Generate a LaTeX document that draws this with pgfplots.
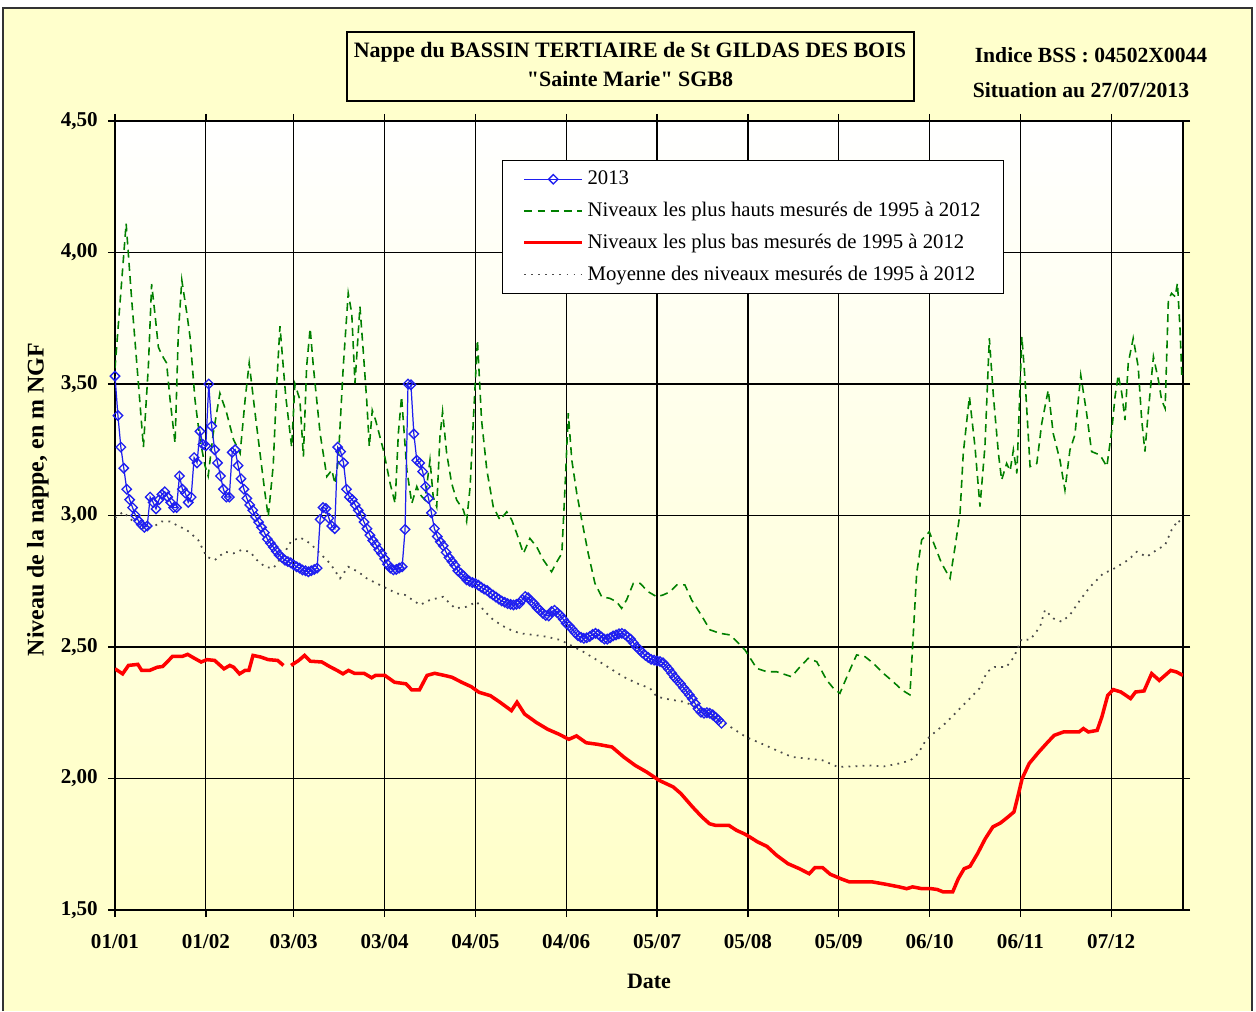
\documentclass[border=0pt]{standalone}
\usepackage{fontspec}
\setmainfont{Liberation Serif}[Ligatures=TeXOff]
\usepackage{pgfplots}
\pgfplotsset{compat=1.18}

\definecolor{bgyellow}{RGB}{255,255,204}
\definecolor{plotbottom}{RGB}{255,255,200}
\definecolor{haut}{RGB}{0,128,0}
\definecolor{bleu}{RGB}{30,30,240}
\definecolor{rouge}{RGB}{255,0,0}

\begin{document}
\begin{tikzpicture}
\useasboundingbox (0,0) rectangle (25.12,20.22);
\fill[white] (0,0) rectangle (25.12,20.22);
\fill[bgyellow] (0.06,0) rectangle (25.04,20.06);
\draw[black!80, line width=1.2pt] (0.06,0) -- (0.06,20.06) -- (25.04,20.06) -- (25.04,0);

% titre
\draw[black, line width=0.8pt, fill=bgyellow] (6.94,18.20) rectangle (18.28,19.58);
\node[anchor=base, inner sep=0pt, font=\fontsize{12.5}{15}\selectfont\bfseries] at (12.6,19.06) {Nappe du BASSIN TERTIAIRE de St GILDAS DES BOIS};
\node[anchor=base, inner sep=0pt, font=\fontsize{12.5}{15}\selectfont\bfseries] at (12.6,18.48) {"Sainte Marie" SGB8};
\node[anchor=base, inner sep=0pt, font=\fontsize{12.3}{15}\selectfont\bfseries] at (21.82,18.96) {Indice BSS : 04502X0044};
\node[anchor=base, inner sep=0pt, font=\fontsize{12.3}{15}\selectfont\bfseries] at (21.62,18.26) {Situation au 27/07/2013};

\begin{axis}[
    at={(2.30cm,2.02cm)}, anchor=south west,
    scale only axis,
    width=21.36cm, height=15.78cm,
    xmin=0, xmax=364.5,
    ymin=1.5, ymax=4.5,
    axis background/.style={top color=white, bottom color=plotbottom},
    axis line style={black, line width=1pt},
    grid=major,
    grid style={black, line width=0.7pt},
    tick align=outside,
    major tick length=0.14cm,
    tick style={black, line width=0.8pt},
    xtick={0,31,61,92,123,154,185,216,247,278,309,340},
    xticklabels={01/01,01/02,03/03,03/04,04/05,04/06,05/07,05/08,05/09,06/10,06/11,07/12},
    ytick={1.5,2,2.5,3,3.5,4,4.5},
    yticklabels={{1,50},{2,00},{2,50},{3,00},{3,50},{4,00},{4,50}},
    ticklabel style={font=\fontsize{12}{14}\selectfont\bfseries},
    xticklabel style={yshift=-0.22cm},
    yticklabel style={xshift=-0.08cm},
    xlabel={Date},
    ylabel={Niveau de la nappe, en m NGF},
    xlabel style={at={(axis description cs:0.5,-0.09)}, anchor=center, font=\fontsize{12.5}{15}\selectfont\bfseries},
    ylabel style={at={(axis description cs:-0.0721,0.52)}, anchor=center, font=\fontsize{13.6}{16}\selectfont\bfseries},
    legend image code/.code={\draw[mark repeat=2,mark phase=2,#1] plot coordinates {(0.1cm,0cm) (0.68cm,0cm) (1.26cm,0cm)};},
    legend style={at={(0.3624,0.9506)}, anchor=north west, draw=black, line width=0.6pt, fill=white,
        font=\fontsize{11.8}{14}\selectfont, row sep=4.4pt, inner xsep=0.4cm, inner ysep=4pt,
        cells={anchor=west}},
    reverse legend,
]

% Moyenne 1995-2012
\addplot[black!70, line width=1pt, dash pattern=on 1pt off 3pt] coordinates {
(0,2.99)(2.8,3.014)(6.2,2.977)(9.7,2.951)(13.1,2.957)(15.9,2.977)(18.8,2.977)(21.6,2.96)(24.5,2.945)
(28.4,2.907)(30.1,2.869)(31.3,2.843)(34.1,2.831)(37.5,2.862)(40.4,2.856)(43.2,2.869)(46.1,2.862)
(48.4,2.831)(51.2,2.805)(54,2.799)(57.4,2.85)(60,2.90)(63.1,2.917)(66.6,2.894)(70,2.856)(73.4,2.818)
(76.8,2.761)(79.6,2.805)(83,2.786)(85.9,2.761)(89.3,2.742)(92.7,2.723)(96.1,2.704)(99,2.698)
(104.1,2.66)(107.5,2.679)(112,2.691)(116,2.647)(120,2.653)(123.4,2.672)(126.3,2.634)(129.1,2.603)
(133.7,2.571)(138.2,2.552)(142.8,2.546)(147.3,2.539)(151.9,2.527)(155.3,2.508)(159.8,2.482)
(164.4,2.451)(168.9,2.419)(173.5,2.387)(178.1,2.362)(182.6,2.343)(184.9,2.311)(189.4,2.3)(194,2.292)
(199.7,2.267)(204.9,2.228)(210.1,2.196)(215.3,2.158)(220.6,2.133)(225.8,2.107)(231,2.082)(236.2,2.076)
(241.5,2.069)(246.7,2.044)(251.9,2.046)(257.1,2.05)(262.4,2.046)(267.6,2.057)(271.5,2.069)(274.1,2.095)
(276.7,2.145)(279.3,2.171)(283.3,2.209)(287.2,2.253)(291.1,2.297)(295,2.342)(297.6,2.405)(300.2,2.424)
(304.2,2.424)(306.8,2.462)(309.4,2.53)(312.3,2.527)(315.7,2.577)(317.4,2.641)(320.2,2.609)(323.1,2.596)
(325.9,2.622)(329.4,2.679)(332.8,2.729)(337.3,2.78)(340.2,2.793)(343,2.812)(345.8,2.831)(348.7,2.862)
(352.1,2.843)(355.5,2.869)(358.4,2.888)(360.6,2.945)(362.9,2.983)(364,2.964)
};
\addlegendentry{Moyenne des niveaux mesurés de 1995 à 2012}

% Plus bas 1995-2012
\addplot[rouge, line width=2pt, unbounded coords=jump] coordinates {
(0,2.417)(2.6,2.398)(4.6,2.43)(7.8,2.434)(9.1,2.411)(11.8,2.411)(14.4,2.423)(16.3,2.426)(19.6,2.464)
(22.9,2.464)(24.8,2.472)(26.8,2.459)(29.4,2.443)(31.4,2.452)(34,2.449)(37.2,2.417)(39.2,2.43)
(40.5,2.423)(42.5,2.398)(44.4,2.411)(45.7,2.411)(47.1,2.468)(49.7,2.462)(52.3,2.452)(55.5,2.449)
(57.5,2.43)(58.8,nan)(60.1,2.43)(62.7,2.449)(64.7,2.468)(66.7,2.446)(70.6,2.443)(73.2,2.426)
(75.8,2.411)(77.8,2.398)(79.7,2.411)(81.7,2.40)(85,2.40)(87.6,2.383)(88.9,2.392)(92.1,2.392)
(95.4,2.366)(99.3,2.36)(101.3,2.337)(103.9,2.337)(106.5,2.392)(109.1,2.40)(112.4,2.392)(115,2.385)
(118.3,2.366)(121.6,2.349)(124.2,2.328)(128.1,2.315)(131.4,2.29)(135.3,2.258)(137.2,2.29)
(139.8,2.245)(143.8,2.213)(147.7,2.187)(151.6,2.168)(154.9,2.149)(157.5,2.162)(160.8,2.136)
(164.7,2.13)(169.6,2.12)(173.6,2.082)(177.5,2.05)(181.4,2.025)(185.7,1.993)(190.5,1.968)
(193.1,1.943)(197.1,1.892)(200.3,1.854)(202.9,1.828)(204.9,1.822)(209.5,1.822)(212.1,1.803)
(214.7,1.79)(216.6,1.778)(219.3,1.759)(222.5,1.742)(225.8,1.708)(229.7,1.676)(233.6,1.657)
(236.9,1.638)(238.9,1.661)(241.5,1.661)(244.1,1.636)(247.7,1.619)(250.6,1.607)(254.5,1.607)
(258.4,1.607)(263,1.598)(267.6,1.588)(270.2,1.581)(272.2,1.588)(275.4,1.581)(278.7,1.581)
(280.6,1.578)(282.6,1.569)(285.9,1.569)(287.8,1.619)(289.8,1.657)(291.8,1.666)(294.4,1.715)
(297,1.771)(299.6,1.816)(302.2,1.831)(304.8,1.854)(306.8,1.873)(308.1,1.93)(309.6,2.0)(312,2.057)
(315.3,2.101)(317.9,2.133)(320.5,2.164)(323.7,2.177)(329,2.177)(330.5,2.19)(332.2,2.177)
(335.2,2.183)(336.8,2.234)(338.8,2.316)(340.7,2.338)(343.3,2.329)(346.6,2.304)(348.3,2.329)
(351.2,2.333)(353.8,2.399)(356.4,2.373)(360.3,2.411)(362.3,2.405)(364.5,2.392)
};
\addlegendentry{Niveaux les plus bas mesurés de 1995 à 2012}

% Plus hauts 1995-2012
\addplot[haut, line width=0.9pt, dash pattern=on 4.5pt off 3pt] coordinates {
(0,3.56)(2,3.85)(3.8,4.11)(5.7,3.82)(8,3.50)(9.7,3.26)(11.4,3.57)(12.5,3.88)(13.7,3.76)(14.8,3.64)
(16,3.61)(17.6,3.58)(18.8,3.44)(20.5,3.275)(21.6,3.69)(22.8,3.895)(24.5,3.77)(25.6,3.68)(27.3,3.44)
(29,3.29)(30.7,3.19)(31.8,3.15)(33.5,3.31)(35.8,3.465)(38.1,3.39)(40.4,3.29)(42.7,3.236)(44.4,3.44)
(45.8,3.58)(47.8,3.39)(49.5,3.236)(51.2,3.084)(52.3,2.995)(54,3.19)(55.2,3.50)(56.3,3.72)(57.4,3.57)
(58.3,3.45)(60.3,3.26)(61.4,3.50)(63.1,3.44)(64.3,3.224)(65.4,3.566)(66.6,3.712)(67.7,3.566)
(70,3.312)(72.3,3.148)(74,3.173)(75.1,3.12)(76.2,3.211)(77.9,3.566)(79.6,3.845)(80.8,3.769)
(81.9,3.503)(83.6,3.794)(84.7,3.629)(85.9,3.439)(86.8,3.262)(87.8,3.40)(89,3.36)(91.6,3.249)
(93.9,3.122)(95.6,3.046)(96.7,3.312)(97.8,3.452)(99.6,3.173)(101.3,3.046)(103,3.11)(104.1,3.08)
(105.8,3.059)(107.5,3.211)(108.6,3.071)(109.8,3.033)(110.9,3.30)(111.8,3.395)(113.2,3.236)
(114.9,3.122)(116.6,3.059)(118.9,3.021)(120,2.977)(121.2,3.11)(122.3,3.363)(123.7,3.667)(125.1,3.363)
(126.9,3.173)(129.1,3.033)(131.4,2.983)(133.7,3.014)(135.4,2.983)(137.1,2.932)(139.4,2.856)
(141.6,2.913)(143.9,2.881)(146.2,2.831)(149,2.786)(150.8,2.824)(152.5,2.856)(153.6,3.11)(154.7,3.389)
(155.9,3.211)(157.6,3.084)(159.3,2.983)(161.5,2.856)(163.8,2.742)(166.1,2.691)(168.9,2.685)
(171.2,2.672)(172.9,2.647)(174.6,2.679)(176.9,2.742)(179.2,2.742)(182,2.71)(184.9,2.691)(187.1,2.698)
(189.4,2.71)(191.7,2.736)(194.5,2.736)(196.8,2.679)(199.7,2.628)(203.1,2.565)(206.5,2.552)
(209.9,2.546)(212.2,2.521)(215,2.489)(219,2.419)(222.4,2.406)(225.8,2.406)(230.9,2.387)(233.8,2.425)
(236.6,2.457)(239.5,2.444)(242.9,2.374)(245.2,2.343)(247.4,2.324)(250.3,2.40)(253.1,2.47)(256,2.463)
(258.8,2.438)(262.2,2.40)(265.6,2.368)(268.5,2.337)(271.3,2.318)(272.2,2.50)(273.6,2.78)(275.3,2.907)
(277.9,2.938)(279.9,2.881)(282.1,2.818)(285,2.761)(286.7,2.881)(288.4,3.008)(289.5,3.236)(291.6,3.452)
(293.5,3.262)(295.2,3.034)(296.9,3.262)(298.4,3.674)(299.8,3.452)(301.5,3.236)(302.6,3.135)
(304.3,3.198)(305.5,3.17)(306.6,3.249)(307.8,3.16)(309.5,3.68)(310.6,3.515)(312.3,3.186)(314.6,3.198)
(316.3,3.351)(318.5,3.477)(320.2,3.312)(322.5,3.211)(324.2,3.097)(325.9,3.249)(327.6,3.306)
(329.6,3.534)(331.6,3.389)(333.3,3.243)(336.2,3.23)(338.5,3.186)(340.2,3.325)(341.3,3.452)
(342.4,3.534)(343.6,3.465)(344.7,3.363)(345.8,3.579)(347.5,3.674)(349.2,3.566)(350.4,3.363)
(351.5,3.243)(352.6,3.389)(354.4,3.604)(356.1,3.515)(357.2,3.439)(358.4,3.407)(359.5,3.819)
(360.6,3.845)(361.8,3.832)(362.6,3.883)(363.5,3.705)(364.1,3.528)
};
\addlegendentry{Niveaux les plus hauts mesurés de 1995 à 2012}

% 2013
\addplot[bleu, line width=0.7pt, mark=square, mark size=1.9pt, mark options={solid, rotate=45, line width=0.75pt}] coordinates {
(0,3.53)(1,3.38)(2,3.26)(3,3.18)(4,3.10)(5,3.06)(6,3.03)(7,3.00)(8,2.98)(9,2.965)(10,2.955)(11,2.96)
(12,3.07)(13,3.05)(14,3.025)(15,3.06)(16,3.08)(17,3.09)(18,3.07)(19,3.05)(20,3.03)(21,3.03)(22,3.15)
(23,3.10)(24,3.085)(25,3.05)(26,3.07)(27,3.22)(28,3.20)(29,3.32)(30,3.27)(31,3.265)(32,3.50)(33,3.34)
(34,3.25)(35,3.20)(36,3.15)(37,3.10)(38,3.07)(39,3.07)(40,3.24)(41,3.25)(42,3.19)(43,3.14)(44,3.10)
(45,3.065)(46,3.04)(47,3.02)(48,2.995)(49,2.975)(50,2.955)(51,2.935)(52,2.91)(53,2.895)(54,2.88)
(55,2.865)(56,2.85)(57,2.84)(58,2.83)(59,2.825)(60,2.82)(61,2.812)(62,2.805)(63,2.80)(64,2.793)
(65,2.79)(66,2.786)(67,2.79)(68,2.795)(69,2.80)(70,2.985)(71,3.03)(72,3.027)(73,2.99)(74,2.96)
(75,2.95)(76,3.26)(77,3.243)(78,3.20)(79,3.10)(80,3.07)(81,3.06)(82,3.04)(83,3.02)(84,3.00)(85,2.975)
(86,2.95)(87,2.925)(88,2.905)(89,2.89)(90,2.87)(91,2.855)(92,2.835)(93,2.815)(94,2.80)(95,2.793)
(96,2.795)(97,2.80)(98,2.805)(99,2.947)(100,3.50)(101,3.497)(102,3.31)(103,3.21)(104,3.20)(105,3.167)
(106,3.11)(107,3.065)(108,3.01)(109,2.95)(110,2.92)(111,2.90)(112,2.885)(113,2.86)(114,2.84)
(115,2.825)(116,2.81)(117,2.79)(118,2.78)(119,2.77)(120,2.755)(121,2.75)(122,2.745)(123,2.742)
(124,2.735)(125,2.727)(126,2.72)(127,2.715)(128,2.705)(129,2.698)(130,2.69)(131,2.682)(132,2.675)
(133,2.67)(134,2.665)(135,2.662)(136,2.66)(137,2.662)(138,2.665)(139,2.68)(140,2.692)(141,2.688)
(142,2.675)(143,2.665)(144,2.65)(145,2.64)(146,2.628)(147,2.62)(148,2.618)(149,2.635)(150,2.64)
(151,2.63)(152,2.62)(153,2.605)(154,2.59)(155,2.58)(156,2.568)(157,2.555)(158,2.543)(159,2.537)
(160,2.533)(161,2.535)(162,2.54)(163,2.548)(164,2.552)(165,2.548)(166,2.538)(167,2.53)(168,2.53)
(169,2.535)(170,2.542)(171,2.546)(172,2.55)(173,2.552)(174,2.548)(175,2.538)(176,2.53)(177,2.515)
(178,2.50)(179,2.49)(180,2.478)(181,2.468)(182,2.46)(183,2.453)(184,2.45)(185,2.447)(186,2.445)
(187,2.44)(188,2.428)(189,2.415)(190,2.40)(191,2.385)(192,2.372)(193,2.36)(194,2.345)(195,2.332)
(196,2.318)(197,2.303)(198,2.285)(199,2.265)(200,2.252)(201,2.248)(202,2.25)(203,2.248)(204,2.242)
(205,2.232)(206,2.222)(207,2.21)
};
\addlegendentry{2013}

\end{axis}
\end{tikzpicture}
\end{document}
